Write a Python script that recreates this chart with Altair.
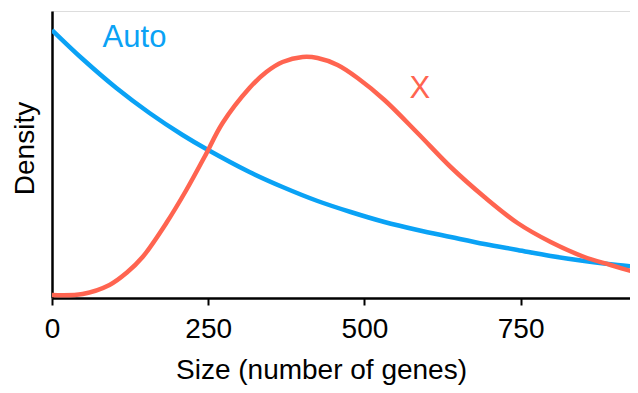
import altair as alt
import pandas as pd

# Density curves (density in arbitrary units)
auto_x = [0, 49, 103, 156, 209, 247, 316, 369, 425, 478, 532, 585, 638, 692, 745, 798, 852, 905, 937]
auto_y = [2.68, 2.39, 2.10, 1.85, 1.63, 1.49, 1.26, 1.11, 0.97, 0.86, 0.76, 0.68, 0.61, 0.54, 0.48, 0.42, 0.37, 0.33, 0.31]

x_x = [0, 49, 92, 119, 145, 183, 215, 244, 273, 316, 343, 369, 401, 425, 457, 489, 532, 585, 638, 692, 745, 798, 852, 894, 937]
x_y = [0.03, 0.04, 0.13, 0.25, 0.41, 0.75, 1.08, 1.41, 1.75, 2.10, 2.26, 2.36, 2.41, 2.40, 2.33, 2.20, 1.98, 1.65, 1.31, 1.01, 0.75, 0.56, 0.41, 0.33, 0.25]

series_names = ["Auto", "X"]
series_colors = ["#0AA2F5", "#FF6450"]

label_text = ["Auto", "X"]
label_x = [81, 572]
label_y = [2.51, 2.00]

x_ticks = [0, 250, 500, 750]

df = pd.concat([
    pd.DataFrame({"size": auto_x, "density": auto_y, "chrom": "Auto"}),
    pd.DataFrame({"size": x_x, "density": x_y, "chrom": "X"}),
])
labels = pd.DataFrame({"size": label_x, "density": label_y, "chrom": label_text})

FONT = "Liberation Sans"

xscale = alt.Scale(domain=[0, 925], nice=False, zero=False)
yscale = alt.Scale(domain=[0, 2.87], nice=False)
color = alt.Color("chrom:N", scale=alt.Scale(domain=series_names, range=series_colors), legend=None)

lines = alt.Chart(df).mark_line(strokeWidth=4.5, interpolate="catmull-rom", clip=True).encode(
    x=alt.X("size:Q", scale=xscale,
            axis=alt.Axis(title="Size (number of genes)", values=x_ticks, grid=False,
                          domainColor="black", domainWidth=2.5, tickColor="black",
                          tickWidth=2, tickSize=7, labelFont=FONT, labelFontSize=28,
                          labelColor="black", labelBaseline="alphabetic", labelPadding=32,
                          labelFlush=False,
                          titleFont=FONT, titleFontSize=28, titleFontWeight="normal",
                          titleColor="black", titleBaseline="alphabetic",
                          titleX=269, titleY=80, titleAnchor="middle")),
    y=alt.Y("density:Q", scale=yscale,
            axis=alt.Axis(title="Density", labels=False, ticks=False, grid=False,
                          domainColor="black", domainWidth=2.5,
                          titleFont=FONT, titleFontSize=28, titleFontWeight="normal",
                          titleColor="black", titleBaseline="alphabetic", titleAngle=270,
                          titleAlign="center", titleX=-19, titleY=137)),
    color=color,
    detail="chrom:N",
)

text = alt.Chart(labels).mark_text(align="left", baseline="alphabetic", font=FONT, fontSize=31).encode(
    x=alt.X("size:Q", scale=xscale),
    y=alt.Y("density:Q", scale=yscale),
    text="chrom:N",
    color=color,
)

chart = (lines + text).properties(
    width=578, height=287,
    autosize=alt.AutoSizeParams(type="none"),
    padding={"left": 44, "top": 3, "right": 0, "bottom": 87},
).configure_view(stroke=None).configure(background="white")

chart.save("out.html", embed_options={"renderer": "svg", "actions": False})
